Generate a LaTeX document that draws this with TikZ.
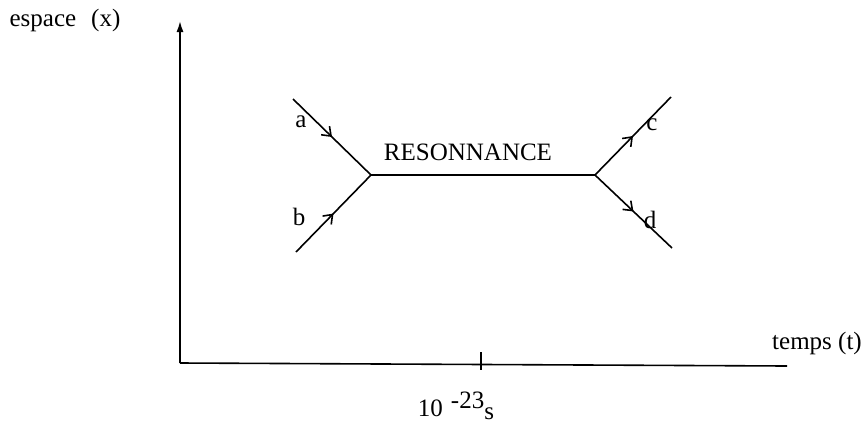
\documentclass[tikz,border=0pt]{standalone}
\usepackage{fontspec}
\setmainfont{Liberation Serif}
\usepackage{tikz}
\usetikzlibrary{arrows.meta, decorations.markings}

\begin{document}
\begin{tikzpicture}[
				x=0.5pt, y=-0.5pt,
				line/.style={line width=0.8pt, black},
				axis/.style={line width=0.8pt, black},
				flow/.style={line, postaction={decorate, decoration={markings,
						mark=at position 0.5 with {\arrow{Straight Barb[length=4pt, width=6pt, line width=0.8pt]}}}}},
				lbl/.style={font=\fontsize{12.5}{15}\selectfont, inner sep=0pt}
				]
				\useasboundingbox (0,0) rectangle (868,424);

				% axes
				\coordinate (origin) at (180,363);
				\coordinate (ytop) at (180,21);
				\coordinate (xend) at (787,366);
				\coordinate (tick) at (481,362);
				\draw[axis, -{Latex[length=5.5pt, width=3.5pt]}] (origin) -- (ytop);
				\draw[axis] (origin) -- (xend);
				\draw[axis] ([yshift=5pt]tick) -- ([yshift=-4pt]tick);
				\node[lbl] (yname) at (65,20) {espace\hspace{0.6em}(x)};
				\node[lbl] (xname) at (817,343) {temps (t)};
				\node[lbl] (tau) at (456,406) {10\hspace{4pt}\raisebox{4pt}{-23}\raisebox{-1.5pt}{s}};

				% vertices
				\coordinate (vin) at (371,175);
				\coordinate (vout) at (595,175);
				\coordinate (ain) at (293,99);
				\coordinate (bin) at (296,252);
				\coordinate (cout) at (671,97);
				\coordinate (dout) at (672,248);

				\draw[flow] (ain) -- (vin);
				\draw[flow] (bin) -- (vin);
				\draw[line] (vin) -- (vout);
				\draw[flow] (vout) -- (cout);
				\draw[flow] (vout) -- (dout);

				\node[lbl] (res) at (468,152) {RESONNANCE};
				\node[lbl] (a) at (301,122) {a};
				\node[lbl] (b) at (299,217) {b};
				\node[lbl] (c) at (652,125) {c};
				\node[lbl] (d) at (650,220) {d};
			\end{tikzpicture}
\end{document}
